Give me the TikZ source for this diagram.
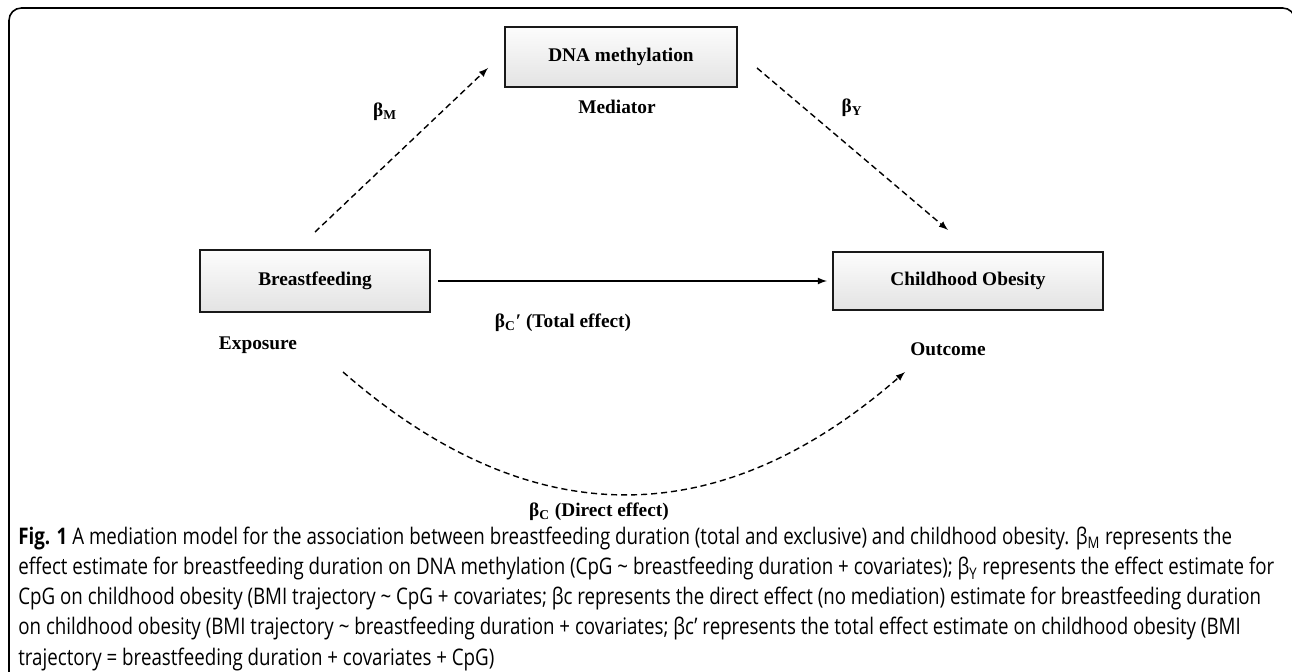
\documentclass[tikz,border=0pt]{standalone}
\usepackage{fontspec}
\setmainfont{Liberation Serif}
\newfontfamily\capfont[FakeStretch=0.82]{Open Sans}
\usetikzlibrary{arrows,positioning}

\tikzset{
	box/.style={draw=black!90,line width=1.2pt,top color=gray!2,bottom color=gray!22,minimum height=1.2cm,font=\bfseries\fontsize{11}{13}\selectfont},
	lbl/.style={font=\bfseries\fontsize{11}{13}\selectfont},
	dasharrow/.style={-latex,line width=0.8pt,dash pattern=on 3.5pt off 2.2pt}
}

\begin{document}
\begin{tikzpicture}[x=0.02cm,y=-0.02cm]
	\useasboundingbox (0,0) rectangle (1292,672);
	\clip (0,0) rectangle (1292,672);
	\draw[line width=0.9pt,rounded corners=7pt] (9,8) rectangle (1295,700);

	\node[box,minimum width=4.64cm] (dna) at (621,57) {DNA methylation};
	\node[box,minimum width=4.6cm,minimum height=1.24cm] (bf) at (315,281) {Breastfeeding};
	\node[box,minimum width=5.4cm,minimum height=1.16cm] (co) at (968,281) {Childhood Obesity};

	\node[lbl] (med) at (617,107) {Mediator};
	\node[lbl] (exp) at (258,345) {Exposure};
	\node[lbl] (out) at (948,349) {Outcome};

	\coordinate (m0) at (315,232);
	\coordinate (m1) at (488,68);
	\coordinate (y0) at (757,68);
	\coordinate (y1) at (948,230);
	\coordinate (c0) at (343,372);
	\coordinate (c1) at (905,372);

	\draw[dasharrow] (m0) -- (m1);
	\draw[dasharrow] (y0) -- (y1);
	\draw[-latex,line width=0.8pt,shorten <=0.14cm,shorten >=0.1cm] (bf) -- (co);
	\draw[dasharrow] (c0) .. controls (530,535) and (718,535) .. (c1);

	\node[lbl] (bm) at (385,112) {β\textsubscript{M}};
	\node[lbl] (by) at (852,108) {β\textsubscript{Y}};
	\node[lbl] (bct) at (563,323) {β\textsubscript{C}′ (Total effect)};
	\node[lbl] (bcd) at (599,512) {β\textsubscript{C} (Direct effect)};

	\node[anchor=north west,align=left,inner sep=0,font=\capfont\fontsize{13}{17.1}\selectfont] (cap) at (18,527) {\textbf{Fig. 1} A mediation model for the association between breastfeeding duration (total and exclusive) and childhood obesity. β\textsubscript{M} represents the\\
effect estimate for breastfeeding duration on DNA methylation (CpG \textasciitilde{} breastfeeding duration + covariates); β\textsubscript{Y} represents the effect estimate for\\
CpG on childhood obesity (BMI trajectory \textasciitilde{} CpG + covariates; βc represents the direct effect (no mediation) estimate for breastfeeding duration\\
on childhood obesity (BMI trajectory \textasciitilde{} breastfeeding duration + covariates; βc’ represents the total effect estimate on childhood obesity (BMI\\
trajectory = breastfeeding duration + covariates + CpG)};
\end{tikzpicture}
\end{document}
